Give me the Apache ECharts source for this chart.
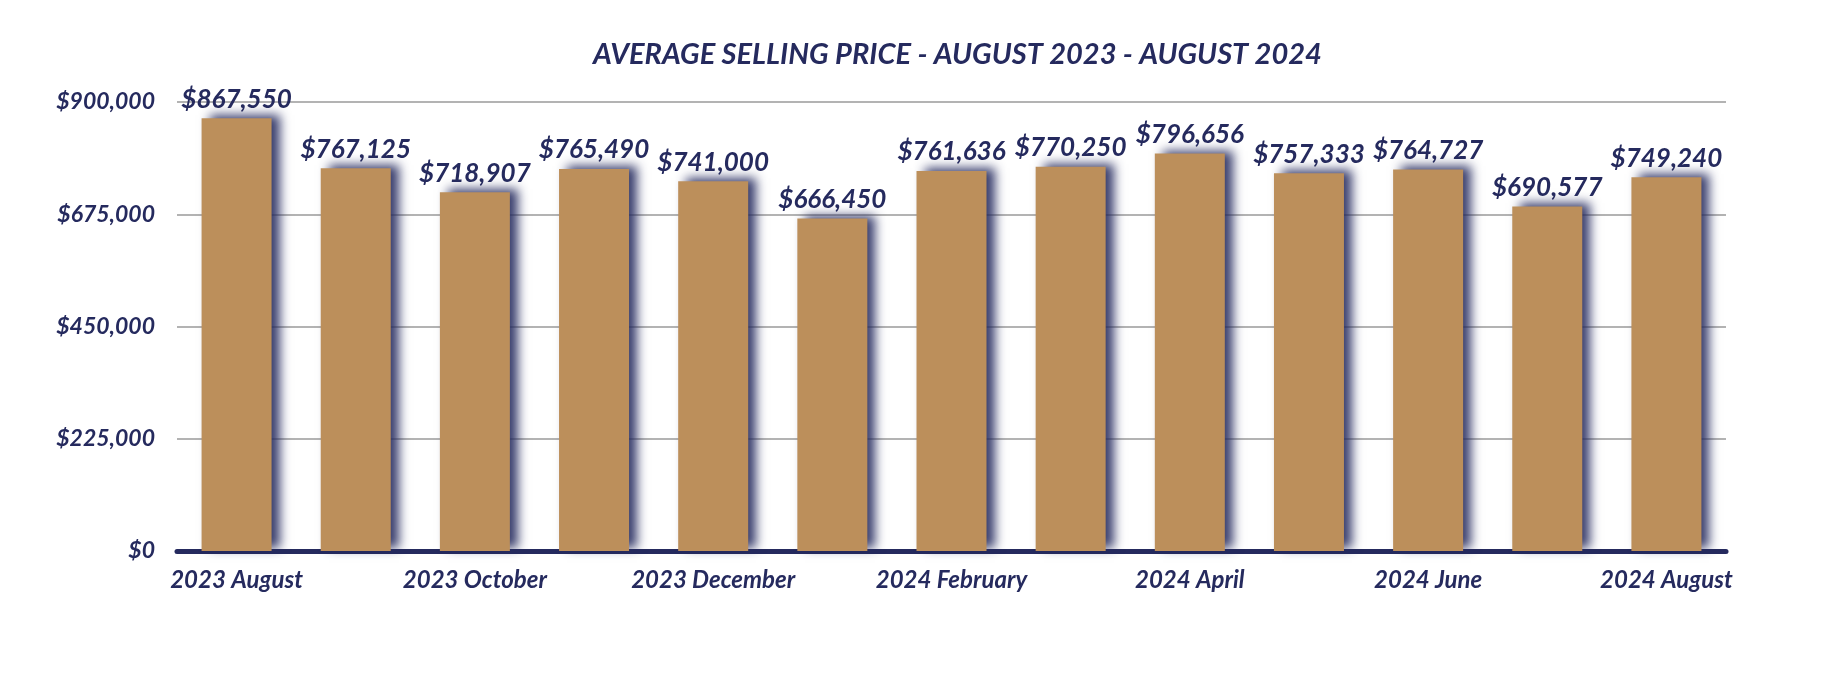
<!DOCTYPE html>
<html>
<head>
<meta charset="utf-8">
<script src="https://cdn.jsdelivr.net/npm/echarts@6/dist/echarts.min.js"></script>
<style>
html,body{margin:0;padding:0;background:#fff;}
#chart{width:1824px;height:676px;}
</style>
</head>
<body>
<div id="chart"></div>
<script>
const titleText = 'AVERAGE SELLING PRICE - AUGUST 2023 - AUGUST 2024';
const categories = ['2023 August','2023 September','2023 October','2023 November','2023 December','2024 January','2024 February','2024 March','2024 April','2024 May','2024 June','2024 July','2024 August'];
const avgPrice = [867550,767125,718907,765490,741000,666450,761636,770250,796656,757333,764727,690577,749240];
const yMin = 0, yMax = 900000, yStep = 225000;

const navy = '#252a5e';
const tan = '#bc8f5b';
const font = 'Lato';
const fmt = v => '$' + Number(v).toLocaleString('en-US');

const chart = echarts.init(document.getElementById('chart'));
chart.setOption({
  backgroundColor: '#fff',
  animation: false,
  title: {
    text: titleText,
    left: 588,
    top: 35,
    textStyle: {color: navy, fontFamily: font, fontStyle: 'italic', fontWeight: 'bold', fontSize: 29}
  },
  grid: {left: 177, right: 98, top: 102, bottom: 125},
  xAxis: {
    type: 'category',
    data: categories,
    axisLine: {lineStyle: {color: navy, width: 5}},
    axisTick: {show: false},
    axisLabel: {
      interval: 1,
      margin: 17,
      color: navy, fontFamily: font, fontStyle: 'italic', fontWeight: 'bold', fontSize: 24
    }
  },
  yAxis: {
    type: 'value',
    min: yMin, max: yMax, interval: yStep,
    axisLine: {show: false},
    axisTick: {show: false},
    splitLine: {lineStyle: {color: '#b3b3b3', width: 2}},
    axisLabel: {
      margin: 22,
      formatter: fmt,
      color: navy, fontFamily: font, fontStyle: 'italic', fontWeight: 'bold', fontSize: 23
    }
  },
  series: [{
    type: 'bar',
    data: avgPrice,
    barWidth: 70,
    itemStyle: {
      color: tan,
      shadowColor: 'rgba(37,42,94,0.9)',
      shadowBlur: 10,
      shadowOffsetX: 8,
      shadowOffsetY: -3
    },
    label: {
      show: true,
      position: 'top',
      distance: 6,
      formatter: p => fmt(p.value),
      color: navy, fontFamily: font, fontStyle: 'italic', fontWeight: 'bold', fontSize: 26
    }
  }]
});
</script>
</body>
</html>
